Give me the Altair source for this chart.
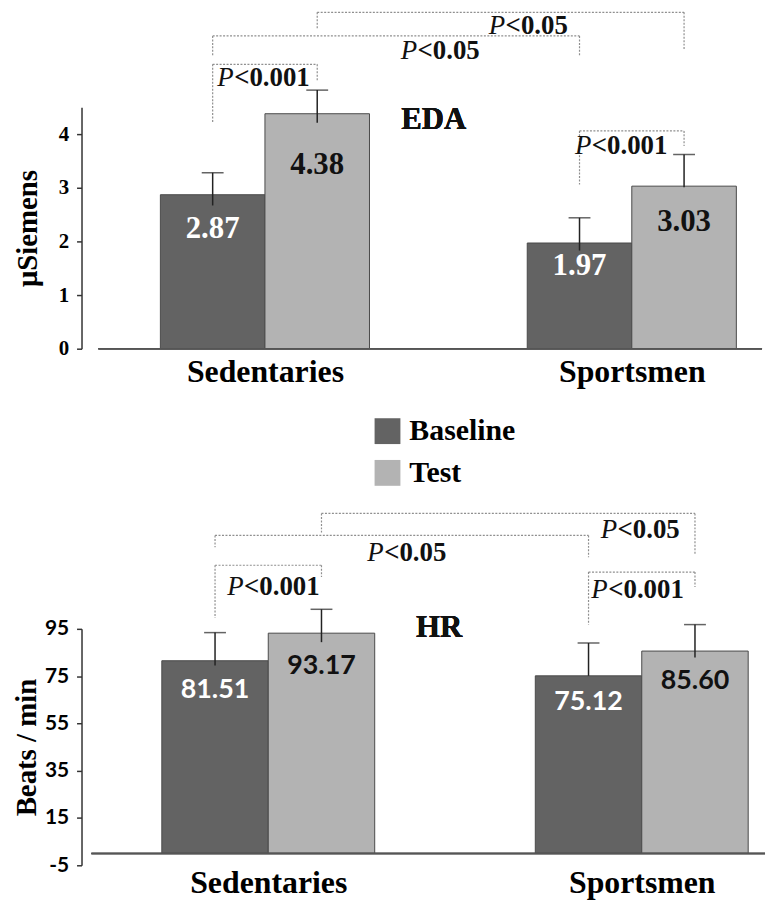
import altair as alt
import pandas as pd

# ---------------- data ----------------
groups = ["Sedentaries", "Sportsmen"]
conditions = ["Baseline", "Test"]
group_pos = [1.0, 3.0]

# bar order: Sedentaries-Baseline, Sedentaries-Test, Sportsmen-Baseline, Sportsmen-Test
eda_mean = [2.87, 4.38, 1.97, 3.03]
eda_err = [0.41, 0.44, 0.47, 0.59]
eda_text = ["2.87", "4.38", "1.97", "3.03"]

hr_mean = [81.51, 93.17, 75.12, 85.60]
hr_err = [11.9, 10.1, 13.9, 11.2]
hr_text = ["81.51", "93.17", "75.12", "85.60"]

# significance brackets (bar index from / to, levels in data units)
br_from = [0, 0, 1, 2]
br_to = [1, 2, 3, 3]
br_label = ["<0.001", "<0.05", "<0.05", "<0.001"]

eda_br_top = [5.30, 5.83, 6.27, 4.06]
eda_br_left_end = [4.20, 5.44, 5.97, 3.06]
eda_br_right_end = [5.00, 5.44, 5.56, 3.78]
eda_br_text_x = [0.74, 1.74, 2.22, 2.69]
eda_br_text_y = [5.04, 5.54, 6.01, 3.78]

hr_br_top = [121.9, 134.5, 143.8, 119.0]
hr_br_left_end = [99.6, 129.5, 135.8, 96.7]
hr_br_right_end = [116.9, 125.3, 126.1, 112.7]
hr_br_text_x = [0.78, 1.53, 2.78, 2.73]
hr_br_text_y = [112.7, 127.0, 136.6, 111.4]

eda_ticks = [0, 1, 2, 3, 4]
hr_ticks = [-5, 15, 35, 55, 75, 95]

# ---------------- style ----------------
SERIF = "Liberation Serif"
SANS = "Lato"
DARK = "#636363"
LIGHT = "#b3b3b3"
BAR_W = 0.57


def bar_frame(means, errs, texts, stub, label_frac):
    rows = []
    for i, (m, e, t) in enumerate(zip(means, errs, texts)):
        g = i // 2
        c = i % 2
        x0 = group_pos[g] - BAR_W + c * BAR_W
        rows.append(dict(
            group=groups[g], condition=conditions[c], mean=m,
            x0=x0, x1=x0 + BAR_W, xc=x0 + BAR_W / 2,
            top=m + e, low=m + e - stub, ly=m * label_frac, label=t,
            tcolor="white" if c == 0 else "#111111",
        ))
    return pd.DataFrame(rows)


def bracket_frames(df, tops, lefts, rights, tx, ty):
    segs, texts = [], []
    for k in range(len(br_from)):
        xl = df.loc[br_from[k], "xc"]
        xr = df.loc[br_to[k], "xc"]
        segs.append(dict(x=xl, x2=xr, y=tops[k], y2=tops[k]))
        segs.append(dict(x=xl, x2=xl, y=tops[k], y2=lefts[k]))
        segs.append(dict(x=xr, x2=xr, y=tops[k], y2=rights[k]))
        texts.append(dict(x=tx[k], y=ty[k], p="P", rest=br_label[k]))
    return pd.DataFrame(segs), pd.DataFrame(texts)


def panel(means, errs, texts, stub, label_frac, tops, lefts, rights, tx, ty,
          ydom, yticks, ytitle, tick_font, title_pad, label_pad_y, val_font, val_size,
          name, name_x, name_y, xmax, width, height, base_start, xlabel_pad, legend):
    df = bar_frame(means, errs, texts, stub, label_frac)
    segs, ptxt = bracket_frames(df, tops, lefts, rights, tx, ty)

    xscale = alt.Scale(domain=[0, xmax], nice=False)
    yscale = alt.Scale(domain=ydom, nice=False, zero=False)
    label_expr = " : ".join(
        [f"datum.value == {p} ? '{g}'" for p, g in zip(group_pos[:-1], groups[:-1])]
        + [f"'{groups[-1]}'"]
    )
    xaxis = alt.Axis(values=group_pos, labelExpr=label_expr, domain=False, ticks=False,
                     grid=False, labelFont=SERIF, labelFontSize=32, labelFontWeight="bold",
                     labelColor="black", labelPadding=xlabel_pad, labelFlush=False,
                     labelOverlap=False, title=None)
    yaxis = alt.Axis(values=yticks, labelExpr="'' + datum.value", grid=False,
                     domainColor="#333333", domainWidth=1.5,
                     tickColor="#333333", tickWidth=1.5, tickSize=5,
                     labelFont=tick_font, labelFontSize=21, labelFontWeight="bold",
                     labelColor="black", labelPadding=label_pad_y,
                     title=ytitle, titleFont=SERIF, titleFontSize=29, titleFontWeight="bold",
                     titleColor="black", titlePadding=title_pad)

    base = alt.Chart(df)
    bars = base.mark_rect(stroke="#4a4a4a", strokeWidth=1).encode(
        x=alt.X("x0:Q", scale=xscale, axis=xaxis),
        x2="x1:Q",
        y=alt.Y("mean:Q", scale=yscale, axis=yaxis),
        y2=alt.datum(0),
        color=alt.Color("condition:N", scale=alt.Scale(domain=conditions, range=[DARK, LIGHT]),
                        legend=legend),
    )
    err = base.mark_rule(color="#222222", strokeWidth=1.5).encode(
        x="xc:Q", y="top:Q", y2="low:Q")
    caps = base.mark_tick(orient="horizontal", size=22, thickness=1.5, color="#222222").encode(
        x="xc:Q", y="top:Q")
    vals = base.mark_text(font=val_font, fontSize=val_size, fontWeight="bold",
                          baseline="middle", align="center").encode(
        x="xc:Q", y="ly:Q", text="label:N", color=alt.Color("tcolor:N", scale=None))
    baseline = alt.Chart(df).mark_rule(color="#555555", strokeWidth=1.5).encode(
        x=alt.datum(base_start), x2=alt.datum(xmax), y=alt.datum(0))
    brackets = alt.Chart(segs).mark_rule(color="#8f8f8f", strokeWidth=1.2,
                                          strokeDash=[2, 1.5]).encode(
        x="x:Q", x2="x2:Q", y="y:Q", y2="y2:Q")
    p_it = alt.Chart(ptxt).mark_text(font=SERIF, fontSize=27, fontStyle="italic",
                                     align="left", baseline="middle", color="#111111").encode(
        x="x:Q", y="y:Q", text="p:N")
    p_rest = alt.Chart(ptxt).mark_text(font=SERIF, fontSize=27, fontWeight="bold",
                                       align="left", baseline="middle", dx=17,
                                       color="#111111").encode(
        x="x:Q", y="y:Q", text="rest:N")
    title = alt.Chart(df).mark_text(font=SERIF, fontSize=31, fontWeight="bold",
                                    baseline="middle", align="center", color="#111111").encode(
        x=alt.datum(name_x), y=alt.datum(name_y), text=alt.value(name))

    return alt.layer(bars, err, caps, vals, baseline, brackets, p_it, p_rest, title).properties(
        width=width, height=height)


eda_legend = alt.Legend(orient="none", legendX=293, legendY=311, title=None,
                        symbolType="square", symbolSize=676, symbolStrokeWidth=0,
                        symbolOpacity=1, labelFont=SERIF, labelFontSize=30,
                        labelFontWeight="bold", labelColor="black", labelOffset=7,
                        rowPadding=12, padding=0, labelLimit=300)

eda = panel(eda_mean, eda_err, eda_text, 0.61, 0.78,
            eda_br_top, eda_br_left_end, eda_br_right_end, eda_br_text_x, eda_br_text_y,
            [0, 4.5], eda_ticks, "μSiemens", SERIF, 16, 8, SERIF, 31,
            "EDA", 1.92, 4.26, 3.71, 685, 243, 0.092, 8, eda_legend)

hr = panel(hr_mean, hr_err, hr_text, 13.9, 0.85,
           hr_br_top, hr_br_left_end, hr_br_right_end, hr_br_text_x, hr_br_text_y,
           [-5, 95], hr_ticks, "Beats / min", SANS, 3, 8, SANS, 27,
           "HR", 1.915, 95.4, 3.66, 688, 238, 0.053, 2, None)

chart = alt.vconcat(
    eda, hr, spacing=282, bounds="flush",
    padding={"left": 4, "top": 0, "right": 0, "bottom": 0},
).resolve_scale(color="independent").configure_view(strokeWidth=0)

chart.save("out.html", embed_options={"renderer": "svg", "actions": False})
